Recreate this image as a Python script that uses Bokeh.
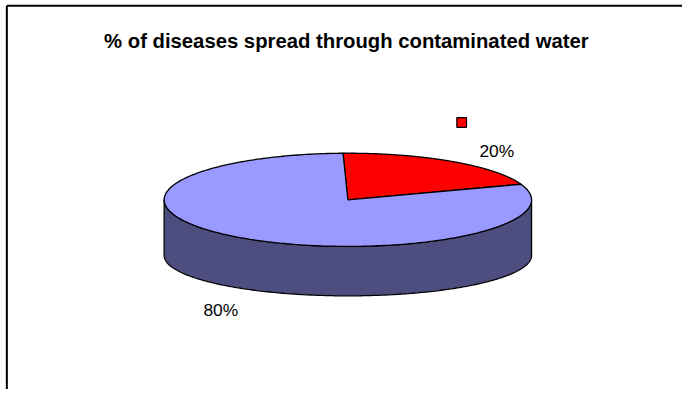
import numpy as np
from bokeh.plotting import figure
from bokeh.models import Range1d, ColumnDataSource
from bokeh.core.properties import value
from bokeh.embed import file_html
from bokeh.resources import INLINE

# ---- data ----
TITLE = "% of diseases spread through contaminated water"
categories = ["Contaminated water", "Other"]
values = [20, 80]
labels = ["20%", "80%"]
top_colors = ["#FF0000", "#9999FF"]
side_colors = ["#800000", "#4D4D80"]

# ---- layout (coordinates in reference-picture pixels) ----
W, H = 682, 389            # figure size that fits the 698x405 window
REF_W, REF_H = 698, 405    # coordinate space of the reference picture
CX, CY = 355.5, 207.5      # centre of top face
A, B = 188, 48.5           # semi axes of top face
DEPTH = 58
B_BOTTOM = 42              # flatter bottom rim (perspective)
ROT = -1.5                 # start rotation in degrees (clockwise from top)
LABEL_POS = [(508, 156.5), (225.5, 322.7)]
KEY_POS = (472, 127)
FS = (W / REF_W + H / REF_H) / 2   # font scale

p = figure(width=W, height=H, output_backend="svg", toolbar_location=None,
           x_range=Range1d(0, REF_W), y_range=Range1d(REF_H, 0),
           x_axis_type=None, y_axis_type=None, min_border=0,
           background_fill_color="white", border_fill_color="white")
p.outline_line_color = None
p.xgrid.visible = False
p.ygrid.visible = False


def top_pt(th):
    r = np.radians(th)
    return CX + A * np.sin(r), CY - B * np.cos(r)


def bot_pt(th):
    r = np.radians(th)
    return CX + A * np.sin(r), CY + DEPTH - B_BOTTOM * np.cos(r)


# slice angles from data
total = float(sum(values))
starts, ends = [], []
acc = ROT
for v in values:
    starts.append(acc)
    acc += 360.0 * v / total
    ends.append(acc)

# ---- side walls (front half, 90..270 deg) for each slice ----
for s, e, col in zip(starts, ends, side_colors):
    segs = []
    for off in (0, 360):
        lo, hi = max(s - off, 90), min(e - off, 270)
        if lo < hi:
            segs.append((lo, hi))
    for lo_, hi_ in segs:
        th = np.linspace(lo_, hi_, 240)
        tx, ty = top_pt(th)
        bx, by = bot_pt(th[::-1])
        xs = np.concatenate([tx, bx])
        ys = np.concatenate([ty, by])
        p.patch(xs, ys, fill_color=col, line_color="black", line_width=1.3)

# ---- top face wedges ----
for s, e, col in zip(starts, ends, top_colors):
    th = np.linspace(s, e, 300)
    ax, ay = top_pt(th)
    xs = np.concatenate([[CX], ax, [CX]])
    ys = np.concatenate([[CY], ay, [CY]])
    p.patch(xs, ys, fill_color=col, line_color="black", line_width=1.3)

# ---- legend key next to the 20% label ----
p.scatter([KEY_POS[0]], [KEY_POS[1]], marker="square", size=10 * FS,
          fill_color=top_colors[0], line_color="black", line_width=1.2)

# ---- data labels ----
src = ColumnDataSource(dict(x=[q[0] for q in LABEL_POS],
                            y=[q[1] for q in LABEL_POS], t=labels))
p.text(x="x", y="y", text="t", source=src, text_align="center",
       text_baseline="alphabetic", text_font=value("Liberation Sans"),
       text_font_size=f"{18 * FS:.1f}px", text_color="black")

# ---- title ----
p.text(x=[354], y=[42], text=[TITLE], text_align="center",
       text_baseline="alphabetic", text_font=value("Liberation Sans"),
       text_font_style="bold", text_font_size=f"{21 * FS:.1f}px",
       text_color="black")

# ---- chart frame (left and top edges visible) ----
p.line([6.5, 6.5], [REF_H, 5.5], line_color="black", line_width=2)
p.line([6.5, REF_W], [5.5, 5.5], line_color="black", line_width=2)

open("out.html", "w").write(file_html(p, INLINE))
